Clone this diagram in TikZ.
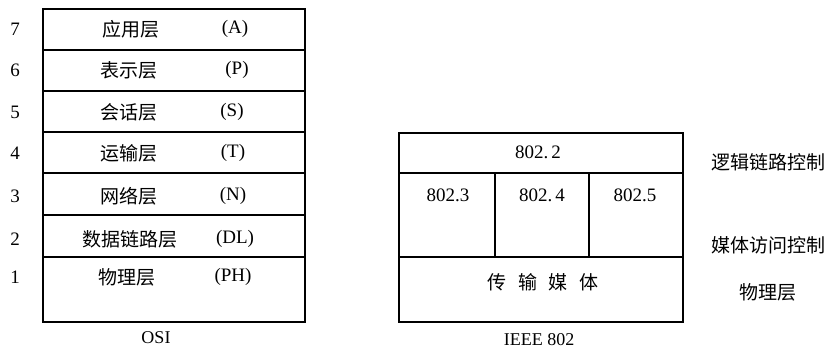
\documentclass[tikz,border=0pt]{standalone}
\usepackage{fontspec}
\setmainfont{Liberation Serif}
\newfontfamily\cjk{Noto Sans CJK SC}
\begin{document}
\begin{tikzpicture}[x=1pt,y=-1pt,
  cell/.style={draw,line width=1.8pt,inner sep=0pt,outer sep=0pt,anchor=north west},
  zh/.style={font=\cjk\fontsize{19}{19}\selectfont,inner sep=0pt},
  lat/.style={font=\fontsize{19}{19}\selectfont,inner sep=0pt},
  captext/.style={font=\fontsize{18}{18}\selectfont,inner sep=0pt}]
\useasboundingbox (0,0) rectangle (833,349);
% OSI stack
\node[cell,minimum width=262pt,minimum height=41pt] (r7) at (43,9) {};
\node[cell,minimum width=262pt,minimum height=41pt] (r6) at (43,50) {};
\node[cell,minimum width=262pt,minimum height=41pt] (r5) at (43,91) {};
\node[cell,minimum width=262pt,minimum height=41pt] (r4) at (43,132) {};
\node[cell,minimum width=262pt,minimum height=42pt] (r3) at (43,173) {};
\node[cell,minimum width=262pt,minimum height=42pt] (r2) at (43,215) {};
\node[cell,minimum width=262pt,minimum height=65pt] (r1) at (43,257) {};
\node[lat] (n7) at (15,29) {7};
\node[lat] (n6) at (15,70) {6};
\node[lat] (n5) at (15,112) {5};
\node[lat] (n4) at (15,153) {4};
\node[lat] (n3) at (15,196) {3};
\node[lat] (n2) at (15,239) {2};
\node[lat] (n1) at (15,277) {1};
\node[zh] (z7) at (131,29) {应用层};
\node[zh] (z6) at (129,70) {表示层};
\node[zh] (z5) at (129,112) {会话层};
\node[zh] (z4) at (129,153) {运输层};
\node[zh] (z3) at (129,196) {网络层};
\node[zh] (z2) at (130,239) {数据链路层};
\node[zh] (z1) at (127,277) {物理层};
\node[lat] (a7) at (235,29) {(A)};
\node[lat] (a6) at (237,70) {(P)};
\node[lat] (a5) at (232,112) {(S)};
\node[lat] (a4) at (233,153) {(T)};
\node[lat] (a3) at (233,196) {(N)};
\node[lat] (a2) at (235,239) {(DL)};
\node[lat] (a1) at (233,277) {(PH)};
\node[captext] (osi) at (156,338) {OSI};
% IEEE 802 stack
\node[cell,minimum width=284pt,minimum height=40pt] (llc) at (399,133) {};
\node[cell,minimum width=96pt,minimum height=84pt] (m3) at (399,173) {};
\node[cell,minimum width=94pt,minimum height=84pt] (m4) at (495,173) {};
\node[cell,minimum width=94pt,minimum height=84pt] (m5) at (589,173) {};
\node[cell,minimum width=284pt,minimum height=65pt] (phy) at (399,257) {};
\node[lat] (t2) at (538,152) {802.\,2};
\node[lat] (t3) at (448,195) {802.3};
\node[lat] (t4) at (542,195) {802.\,4};
\node[lat] (t5) at (635,195) {802.5};
\node[zh] (tm) at (543,282) {传\hspace{0.6em}输\hspace{0.6em}媒\hspace{0.6em}体};
\node[zh] (l1) at (768,162) {逻辑链路控制};
\node[zh] (l2) at (768,245) {媒体访问控制};
\node[zh] (l3) at (768,292) {物理层};
\node[captext] (ieee) at (539,340) {IEEE 802};
\end{tikzpicture}
\end{document}
